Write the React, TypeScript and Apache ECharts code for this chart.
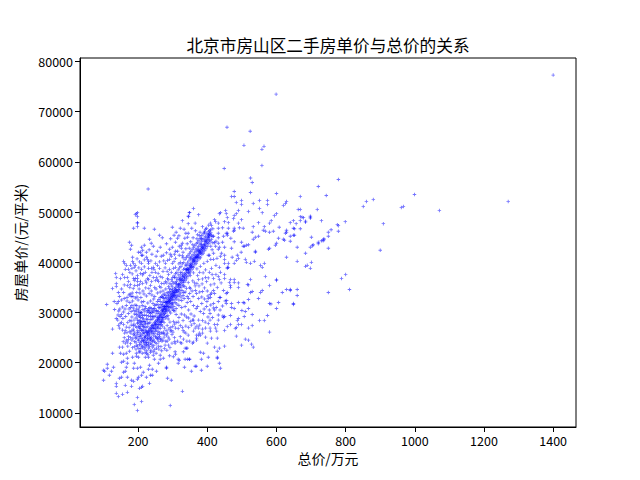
import React, { useEffect, useRef } from "react";
import * as echarts from "echarts";

const titleText = "北京市房山区二手房单价与总价的关系";
const xName = "总价/万元";
const yName = "房屋单价/(元/平米)";
const xTicks = [200, 400, 600, 800, 1000, 1200, 1400];
const yTicks = [10000, 20000, 30000, 40000, 50000, 60000, 70000, 80000];

const farPoints = [[1400,77300],[1270,52100],[1071,50300],[999,53500],[967,51100],[961,50900],[909,47700],[900,42400],[880,52500],[860,52100],[851,51100],[811,34600],[800,37600],[799,48100],[788,36800],[779,56500],[779,46200],[779,47300],[776,47500],[758,46500],[750,46000],[750,45200],[750,42800],[750,34000],[744,53300],[737,44500],[737,44700],[735,44300],[730,44300],[730,48300],[721,55100],[721,44000],[721,43700],[718,50500],[706,43500],[704,43300],[701,45000],[701,40000],[698,43000],[698,49000],[698,49200],[698,48800],[698,38800],[689,39400],[684,48200],[684,48000],[684,41800],[684,39200],[678,48900],[674,49000],[669,49100],[669,53100],[669,50500],[669,48300],[669,46700],[663,50500],[660,43000],[660,40200],[660,34600],[660,33400],[657,47700],[652,46700],[649,48300],[649,45400],[649,31800],[640,47900],[640,45200],[640,34600]];

const topPoints = [[599,73500],[457,66900],[524,66100],[506,63300],[564,63100],[558,62500],[558,59300],[449,58700],[229,54600],[530,55900],[525,56800],[478,54100],[470,53100],[478,53100.5],[525,53900],[600,53700],[499,52300],[484,51900],[499,51500],[533,51700],[551,52300],[574,52300],[574,51500],[551,50700],[629,52100],[626,51700],[620,51300]];

const upperCloud = [[360,50700],[349,49900],[346,49100],[375,49500],[438,49900],[435,49700],[453,50300],[455,49700],[458,48900],[490,50300],[484,49700],[478,49300],[476,48700],[519,50100],[559,49900],[600,49700],[594,49300],[585,48300],[580,47800],[649,46800],[640,44200],[499,48500],[490,47800],[421,48500],[424,48100],[432,47800],[450,48100],[461,47900],[548,47900],[565,47100],[533,47100],[608,47000],[478,46800],[478,46400],[476,46200],[461,46800],[458,45800],[432,46800],[444,46900],[504,46800],[493,46900],[530,46000],[548,45200],[539,45000],[533,44600],[562,46400],[568,46200],[580,46000],[591,46200],[629,46400],[629,46000],[626,45800],[652,45400],[606,44800],[620,44600],[623,44400],[600,43800],[597,43400],[580,42800],[577,42600],[499,44000],[504,43200],[519,43500],[513,43400],[507,43200],[539,42200],[539,42000],[629,41000],[565,39800],[554,39400],[559,39000],[536,40200],[525,39800],[510,40600],[513,40000],[487,41400],[490,40800],[484,40400],[478,39800],[461,39800],[458,38800],[450,40600],[450,41400],[450,43000],[470,42800],[432,42600],[435,43000],[432,43800],[418,41800],[418,40600],[403,41400],[406,41400],[432,44900],[447,45200],[455,45800],[458,45400],[432,45800],[418,45200],[421,43900],[425,44200],[412,47300],[416,46700],[409,47800],[404,47400],[398,46800],[386,47100],[379,46000],[372,45500],[366,46300],[359,44900],[352,44100],[345,47700],[338,45800],[333,46600],[383,44700],[392,45900],[410,43200],[414,42500],[441,41800],[444,44000],[468,44800],[478,44100],[472,41000],[498,42000]];

const midRight = [[568,37200],[600,36600],[600,36400],[525,36600],[519,35500],[580,35400],[629,34600],[640,34400],[617,34000],[559,34400],[554,34000],[548,32800],[530,34200],[525,34000],[516,35600],[504,32000],[519,32600],[580,31800],[606,32000],[478,36600],[467,36600],[464,36000],[478,36000],[490,35900],[490,35000],[467,35000],[467,35400],[450,37600],[450,36800],[432,37200],[435,36600],[418,36800],[398,36200],[375,36600],[351,37400],[406,38000],[435,39000],[458,39000],[461,39000],[450,39800],[455,33800],[458,34000],[438,33000],[435,33000],[418,34400],[421,33800],[409,33600],[409,33000],[386,34200],[369,33800],[351,34800],[349,35000],[346,32800],[403,32800],[447,34400],[429,35000],[375,32800],[455,31800],[490,32000],[470,31800],[478,30800],[470,31000],[507,31900],[519,30800],[500,30400],[510,30200],[584,31700],[600,30800],[649,31600],[530,29600],[507,29200],[467,29400],[450,29200],[447,29000],[574,29400],[551,28400],[565,28400],[490,28800],[487,28400],[490,27600],[499,27600],[467,27600],[458,27200],[450,26400],[484,27000],[481,26800],[530,27400],[519,26900],[580,26100],[484,25300],[510,24700],[519,24500],[528,23700],[533,23100],[499,23500],[450,23300],[435,22900],[421,23100],[429,22300],[380,22100],[389,21900],[403,21100],[429,21100],[429,20900],[383,20700],[435,19900],[400,19300],[368,19300],[365,19300],[438,18900],[383,18500],[354,18300],[336,20700],[349,20700],[336,22900],[341,22900]];

const centerRight = [[360,24100],[357,23900],[400,23900],[341,24300],[349,24300],[369,24900],[369,24500],[429,24900],[412,24900],[395,25100],[386,25900],[377,25900],[409,26300],[427,26300],[360,26300],[369,25500],[375,25500],[380,25500],[408,26900],[395,26900],[386,26700],[403,27800],[421,27600],[429,27600],[424,26900],[432,28500],[445,29300],[408,28500],[365,26900],[375,26900],[351,28200],[357,28500],[360,28500],[421,30500],[437,30500],[432,29500],[408,29800],[389,29800],[375,28500],[346,30500],[368,30800],[384,31800],[399,32200],[418,31800],[432,32200],[452,32300],[456,32400],[338,27300],[333,26100],[345,25500],[330,28400],[325,29700],[336,31200],[342,32000],[352,32200],[360,31400],[372,31200],[380,30200],[391,30700],[398,31200],[406,30500],[415,29000],[353,29700],[362,29300],[331,24700],[322,25200],[316,26800],[310,28000],[318,29000],[326,31000],[333,32800],[359,33200],[366,34400],[376,35300],[385,35700],[392,34900],[400,34300],[410,35500],[420,35700],[440,35900],[345,36000],[358,36300],[365,35300],[372,37400],[388,37900],[395,38500],[412,38800],[425,39400],[428,40800],[438,41200]];

const upperLeft = [[198,49900],[192,49500],[195,49700],[198,49100],[198,47900],[198,47800],[198,47100],[187,46800],[218,46800],[247,46600],[299,47000],[328,48300],[345,49200],[348,49900],[175,44000],[181,43400],[178,42600],[233,44600],[238,43800],[218,43400],[210,43000],[213,42400],[264,43000],[201,42000],[207,42000],[224,42000],[184,41000],[210,41400],[213,41400],[158,40200],[161,39800],[184,40200],[187,39800],[178,39400],[166,39400],[163,38600],[172,38600],[192,39400],[189,39000],[210,39800],[230,39800],[224,41000],[227,40600],[230,40200],[279,39800],[256,39400],[244,39000],[262,38800],[239,38800],[230,38800],[210,38600],[215,37800],[207,37800],[213,37500],[221,38000],[135,37800],[155,37600],[137,37000],[149,36800],[161,37000],[126,34800],[137,35800],[137,35200],[143,34000],[158,34000],[169,35400],[187,36800],[198,37400],[198,36800],[198,36200],[192,36800],[207,36200],[189,36400],[213,35800],[204,35600],[198,35400],[230,36600],[244,37000],[227,36800],[250,36400],[239,36200],[253,37000],[256,36500],[270,37000],[279,36200],[288,37600],[285,36800],[291,38600],[302,38800],[308,39000],[299,39800],[291,40600],[293,41600],[291,42600],[299,43000],[314,44800],[308,44000],[325,43400],[328,43800],[319,43200],[314,42200],[308,42200],[319,41400],[308,40800],[285,40400],[267,41200],[273,41400],[325,42800],[343,45000],[345,45800],[348,42800],[335,44800],[330,42000],[322,40000],[330,40900],[275,35800],[262,35200],[248,35000],[236,35400],[222,34900],[214,34300],[205,33900],[196,34000],[186,34800],[177,33700],[168,33000],[160,32800],[152,32500],[146,33200],[139,31800],[132,30600],[144,30300],[155,31100],[166,31400],[176,32000],[184,32300],[192,32900],[200,32500],[208,33000],[216,32200],[224,33300],[232,33800],[240,33500],[248,33200],[256,33900],[264,34100],[272,34300],[280,34700],[250,38000],[268,35800],[296,35500],[290,34800],[243,31800],[236,32300],[228,31900],[220,31200],[212,31400],[204,31100],[196,30700],[188,30400],[180,30200],[172,29800],[164,29200],[156,28800],[148,29200],[141,28500]];

const lowerEdge = [[109,31600],[126,26700],[143,27400],[158,27600],[146,26900],[155,26500],[161,25900],[166,24500],[163,23900],[146,23100],[155,23100],[169,24100],[126,21900],[149,21900],[158,21700],[166,21900],[175,22300],[195,21900],[152,20100],[158,20300],[169,20900],[184,21100],[201,21100],[221,21100],[230,21100],[247,20700],[111,19700],[111,18900],[100,18500],[103,18300],[123,18300],[129,19100],[117,17500],[100,16500],[137,15900],[137,15300],[146,16900],[152,17100],[158,18100],[163,18300],[166,19100],[169,17100],[163,15500],[181,16500],[187,16300],[198,16700],[201,17100],[210,17500],[224,17100],[236,17500],[241,17500],[253,18300],[241,18700],[230,18700],[187,18900],[198,18900],[215,18100],[169,19900],[189,19900],[207,19100],[233,19500],[181,15300],[204,14900],[210,15100],[213,15300],[233,15900],[137,13900],[143,13300],[155,13700],[169,14100],[198,13100],[210,12300],[189,11700],[198,10500],[293,11500],[328,14300],[285,16900],[296,16500],[282,19100],[282,18900],[259,19900],[264,20700],[273,20900],[291,21400],[302,21200],[308,21700],[316,20700],[319,20500],[316,19900],[334,19100],[343,20700],[348,20700],[307,22200],[331,22200],[341,22900],[326,23900],[307,23900],[288,23500],[278,23500],[283,22500],[264,21500],[244,21500],[225,21900]];

const denseCloud = [[170,23300],[178,23800],[184,23000],[190,24200],[196,23500],[202,22800],[206,24000],[212,23200],[218,22700],[224,23600],[230,22900],[236,23900],[242,23100],[248,22600],[254,23800],[260,24200],[266,23200],[272,24500],[172,25200],[179,25900],[185,24900],[191,25400],[197,26000],[203,25200],[209,24800],[214,25800],[220,25300],[226,26100],[232,24500],[238,23600],[244,24700],[250,25200],[256,25700],[262,25200],[268,25900],[275,25100],[282,25500],[290,24700],[298,25600],[305,25000],[174,27000],[180,27500],[186,26700],[192,27300],[198,27800],[204,26900],[210,26400],[216,27200],[222,27700],[228,27200],[234,28000],[240,28600],[246,29200],[252,25100],[258,26200],[264,26800],[270,27300],[276,26900],[284,27400],[292,28100],[300,27200],[308,26900],[176,28400],[182,29100],[188,28500],[194,28900],[200,29300],[206,28300],[212,28900],[218,29500],[224,28700],[230,29300],[236,29800],[242,30300],[248,30800],[254,30300],[260,31000],[266,31600],[272,32000],[278,32800],[286,29400],[294,29900],[302,30400],[310,30800],[318,31400],[326,32400],[332,34000],[340,34800],[208,27600],[212,26400],[205,27300],[216,26000],[201,27200],[210,28100],[214,27600],[203,28400],[199,26400],[207,25700],[188,26300],[193,24900],[186,25600],[182,24500],[178,25000],[190,23200],[194,22700],[200,24700],[204,23600],[208,22800],[215,24400],[219,25900],[223,27000],[226,23400],[231,27800],[235,26900],[239,25000],[243,27300],[247,24300],[251,26300],[255,24800],[259,23300],[263,26000],[267,27600],[271,28300],[275,28000],[279,28900],[283,29200],[287,28700],[291,30300],[295,31000],[299,31700],[303,31200],[307,32000],[311,32700],[315,33200],[319,33500],[323,33900],[327,34400],[331,35300],[335,35200],[210,30000],[214,30600],[218,30300],[222,30800],[226,30100],[230,30700],[234,31000],[238,30800],[206,30100],[202,29900],[198,28500],[194,30200],[190,29700],[186,30900],[182,31400],[178,31000],[174,30700],[170,28000],[166,27100],[163,26400],[160,25000],[157,24200],[168,26000],[172,24600],[176,26200],[152,28000],[148,27800],[142,29500],[137,28800],[131,32200]];

const coreCloud = [[205,22300],[209,23500],[213,24700],[217,23900],[221,23100],[225,22400],[229,24000],[233,23200],[237,22500],[241,24200],[245,23400],[249,24000],[253,22900],[257,24700],[261,25600],[265,24600],[269,24300],[273,26100],[277,25700],[281,26400],[285,25900],[289,26700],[293,27000],[297,26400],[301,26100],[305,27700],[195,25100],[199,25600],[203,26100],[207,26800],[211,25400],[215,26600],[219,27100],[223,26300],[227,27900],[231,26500],[235,28600],[239,27400],[243,28900],[247,28000],[251,29300],[255,29800],[259,30200],[263,30900],[267,31100],[271,31500],[275,32300],[279,32000],[283,33000],[287,33700],[291,34200],[295,34600],[299,35100],[303,35800],[307,36000],[311,36200],[315,36600],[319,37000],[323,37500],[327,38000],[331,38600],[335,38800],[339,39400],[343,39900],[347,40300],[351,40700],[355,41200],[359,41500],[363,42000],[367,42500],[371,42800],[375,43200],[379,43700],[383,44100],[387,44500],[391,44800],[395,45200],[399,45700],[403,46100],[407,46300],[260,27600],[264,28000],[268,28300],[272,29000],[276,29300],[280,29900],[284,30300],[288,30700],[292,31100],[296,31500],[300,31900],[304,32500],[308,33000],[312,33500],[316,34100],[320,34500],[324,35000],[328,35500],[332,36000],[336,36300],[340,36700],[344,37200],[348,37700],[352,38100],[356,38600],[360,39000],[364,39500],[368,39800],[372,40300],[376,40700],[380,40900],[384,41500],[388,41800],[392,42300],[396,42700],[400,43200],[404,43700],[408,44100],[412,44600],[416,45200],[300,34500],[304,33500],[310,35700],[316,34600],[322,36700],[328,37200],[334,36700],[340,38600],[346,37900],[352,39400],[358,40700],[364,41000],[370,42200],[376,42400],[382,43500],[388,42900],[394,44400],[400,45000],[406,45700],[412,45400],[236,24800],[240,24400],[244,25500],[248,25800],[252,26500],[256,27000],[260,26900],[264,27500],[268,28100],[272,28600],[230,23700],[226,24700],[222,24000],[218,25000],[214,23000],[210,24200],[206,25200],[202,24400],[198,23300],[194,24100],[190,25800],[186,27400],[182,26400],[196,27000],[200,28000],[204,29300],[208,29700],[212,28200],[216,28700],[220,28200],[224,29400],[228,28600],[232,30000],[236,29200],[240,30000],[244,30700],[248,31400],[252,31600],[256,32200],[260,32600],[264,33000],[268,33200],[272,33500],[276,33700],[280,33400],[284,34000],[288,35200],[292,35800],[296,36600],[300,37000],[304,37300],[308,37800],[312,38000],[316,38500],[320,38900],[324,39200],[328,39700],[332,40000],[336,40600],[340,41000],[344,41300],[348,41700],[352,42100],[356,42500],[360,42900],[364,43300],[368,43700],[372,44000],[376,44400],[380,44800],[384,45300],[388,45700],[392,46200]];

const extraCloud = [[172,36200],[178,35600],[183,37700],[194,38300],[202,38900],[218,39100],[222,36300],[234,37400],[240,38000],[246,38600],[258,37800],[264,37200],[272,38200],[278,38900],[284,38200],[296,38000],[304,40200],[296,41200],[282,41900],[274,40300],[262,40100],[252,41200],[240,41600],[232,42500],[244,43200],[256,42200],[282,43700],[270,44900],[262,45400],[310,46000],[322,46800],[318,45300],[304,45400],[294,44700],[328,41300],[338,42700],[342,43700],[355,46800],[365,47800],[176,35000],[183,33900],[190,35400],[197,33100],[203,34700],[210,32100],[217,33700],[224,35900],[231,34800],[238,34300],[245,32700],[252,34700],[259,36200],[266,35000],[274,32900],[283,35900],[287,36500],[299,36200],[305,37000],[310,36900],[316,37500],[322,38000],[180,28300],[188,27700],[195,29600],[206,27900],[213,29400],[220,27900],[228,30400],[234,30300],[241,29300],[246,30100],[252,30400],[258,31500],[264,32200],[270,33000],[276,31200],[282,32200],[288,33300],[294,33900],[300,30700],[306,30300],[312,31700],[318,32500],[324,33100],[330,33400],[336,34100],[342,33200],[349,33800],[356,34300],[363,35900],[370,35800],[378,34100],[384,33100],[392,32700],[402,33300],[412,33900],[195,21300],[203,22100],[212,21900],[220,22000],[228,21600],[236,22100],[244,22200],[252,21900],[260,22700],[268,22400],[276,22800],[284,24300],[292,23000],[298,23900],[306,24200],[314,24300],[322,24000],[330,26400],[338,25900],[346,27000],[354,27500],[362,27800],[370,27300],[378,27500],[386,28400],[394,28100],[402,29100],[410,31500],[418,30900],[426,31000],[444,31300],[252,27600],[258,25000],[266,24800],[272,25800],[280,24300],[287,25100],[294,26300],[302,28200],[310,29600],[316,28100],[322,27400],[328,27000],[334,29500],[340,29100],[346,28900],[240,26100],[234,25300],[228,25800],[222,26400],[217,28200],[212,27300],[207,29000],[201,30500],[196,31400],[191,31500],[185,33200],[180,33200],[174,33500],[168,32300],[162,30700],[158,30100],[152,29600],[147,30700],[143,32200],[152,34700],[160,35500],[169,37000],[176,38000],[182,38800],[197,40700],[204,40100],[218,40500],[237,40300],[250,39800],[305,41600],[318,39700],[338,39500],[350,40900],[358,43500],[370,44700],[378,45300],[395,46600],[403,45500],[409,46500],[416,43900],[424,43200],[360,37900],[370,38700],[380,39200],[390,39800],[400,40200],[410,40600],[378,38000],[386,36700],[395,37000],[403,36900],[414,37600],[425,37600],[438,38000]];

const pointSets = [farPoints, topPoints, upperCloud, midRight, centerRight, upperLeft, lowerEdge, denseCloud, coreCloud, extraCloud];
const ridge = [[215,24300],[218,23500],[220,24900],[222,25300],[224,24100],[225,26000],[227,24800],[228,25600],[230,26200],[231,25100],[233,25700],[234,26700],[235,24700],[237,26300],[238,27000],[240,25800],[241,26800],[242,27500],[244,26200],[245,27100],[246,27700],[248,26800],[249,27400],[250,28300],[251,26900],[252,27900],[254,28400],[255,27200],[256,28200],[257,29000],[258,27600],[259,28600],[260,29100],[261,28100],[262,28700],[263,29700],[264,28300],[265,29300],[266,29900],[267,28900],[268,29500],[269,30400],[270,29000],[271,30100],[272,30600],[273,29600],[274,30200],[275,31200],[276,29800],[277,30800],[278,31300],[279,30300],[280,30900],[281,31900],[282,30500],[283,31500],[284,32000],[285,31100],[286,31700],[287,32600],[288,31200],[289,32200],[290,32800],[291,31800],[292,32400],[293,33300],[294,32000],[295,33000],[296,33500],[297,32500],[298,33100],[299,34100],[300,32700],[301,33700],[302,34200],[303,33300],[304,33900],[305,34800],[306,33400],[307,34400],[308,35000],[309,34000],[310,34600],[312,35500],[313,34200],[315,35200],[316,35700],[318,35000],[319,35600],[320,36500],[322,35300],[323,36300],[325,36800],[326,36000],[328,36600],[329,37500],[331,36300],[332,37300],[334,37800],[335,37000],[337,37600],[338,38500],[340,37300],[341,38300],[343,38800],[344,38000],[346,38600],[347,39500],[349,38300],[350,39300],[352,39800],[353,39000],[355,39600],[356,40500],[358,39200],[359,40200],[361,40700],[362,39900],[364,40500],[365,41400],[367,40200],[368,41100],[370,41600],[371,40900],[373,41400],[374,42300],[376,41100],[377,42100],[379,42600],[380,41800],[382,42400],[383,43200],[385,42100],[386,43000],[388,43500],[390,42800],[391,43300],[393,44100],[395,43200],[396,44100],[398,44500],[400,44000],[402,44500],[404,45300],[406,44400],[408,45500],[410,45900],[300,33200],[306,34000],[311,34400],[317,35500],[321,35800],[327,36400],[333,37100],[339,37900],[345,38500],[351,38800],[357,39900],[363,40300],[369,40900],[375,41600],[381,42000],[387,42500],[392,43600],[397,43700],[403,44900],[407,45100],[270,30500],[274,30900],[278,30600],[282,31200],[286,32200],[290,32300],[294,32700],[298,33700],[262,29300],[256,28700],[250,27700],[244,26800],[238,26400],[232,26100],[226,25400],[220,24400],[342,38600],[348,39000],[354,39200],[360,40400],[366,40900],[372,41200],[378,41900],[384,42800]];

const allPoints = [...pointSets.flat(), ...ridge];

const plusMark = "path://M1.5 0H2.5V1.5H4V2.5H2.5V4H1.5V2.5H0V1.5H1.5Z";
const cjkFont = "'Noto Sans CJK SC', sans-serif";

export default function App() {
  const ref = useRef<HTMLDivElement>(null);
  useEffect(() => {
    const chart = echarts.init(ref.current!, undefined, { renderer: "svg" });
    const axisBase = {
      type: "value" as const,
      splitLine: { show: false },
      axisLine: { show: true, onZero: false, lineStyle: { color: "#000", width: 1 } },
      nameLocation: "middle" as const,
      nameTextStyle: { color: "#000", fontSize: 13.9, fontFamily: cjkFont },
    };
    const plainLabel = (value: number) => String(value);
    chart.setOption({
      animation: false,
      backgroundColor: "#fff",
      title: {
        text: titleText,
        left: 323,
        top: 32,
        textAlign: "center",
        textStyle: { color: "#000", fontSize: 16.67, fontWeight: "normal", fontFamily: cjkFont },
      },
      grid: { left: 80, right: 64, top: 58, bottom: 53, show: true, borderColor: "#000", borderWidth: 1, backgroundColor: "transparent" },
      xAxis: {
        ...axisBase,
        min: 32,
        max: 1466,
        name: xName,
        nameGap: 24,
        axisTick: { show: true, length: 5, customValues: xTicks, lineStyle: { color: "#000" } },
        axisLabel: { customValues: xTicks, formatter: plainLabel, color: "#000", fontSize: 12.5, margin: 7, fontFamily: cjkFont },
      },
      yAxis: {
        ...axisBase,
        min: 7200,
        max: 80700,
        name: yName,
        nameGap: 50,
        axisTick: { show: true, length: 5, customValues: yTicks, lineStyle: { color: "#000" } },
        axisLabel: { customValues: yTicks, formatter: plainLabel, color: "#000", fontSize: 12.5, margin: 7, fontFamily: cjkFont },
      },
      series: [
        {
          type: "scatter",
          data: allPoints,
          symbol: plusMark,
          symbolSize: 3.5,
          itemStyle: { color: "#0000ff", opacity: 0.55 },
        },
      ],
    });
    return () => chart.dispose();
  }, []);
  return <div ref={ref} style={{ position: "fixed", left: 0, top: 0, width: 640, height: 480 }} />;
}
